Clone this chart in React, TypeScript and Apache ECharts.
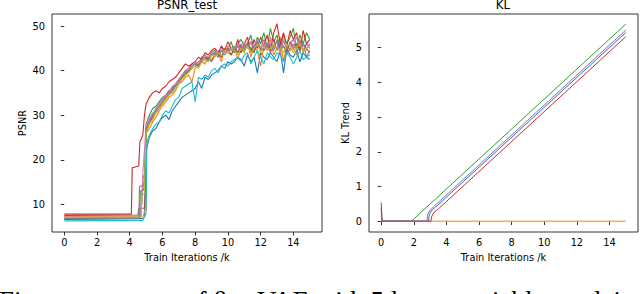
import React, { useEffect, useRef } from "react";
import * as echarts from "echarts";

// ---------- data ----------
const X_TICKS = [0, 2, 4, 6, 8, 10, 12, 14];
const PSNR_TICKS = [10, 20, 30, 40, 50];
const KL_TICKS = [0, 1, 2, 3, 4, 5];

const PSNR_NAMES = ["run0", "run1", "run2", "run3", "run4", "run5", "run6", "run7", "run8", "run9"];
const PSNR_COLORS = ["#1f77b4", "#ff7f0e", "#2ca02c", "#d62728", "#9467bd", "#8c564b", "#e377c2", "#7f7f7f", "#bcbd22", "#17becf"];

// [iteration(k), psnr] points for the flat start and the jump (0 .. 5k)
const psnrHeads: number[][][] = [
  [[0, 6.6], [4.75, 6.8], [4.9, 7.2], [4.95, 11.5], [5.0, 22]],
  [[0, 7.3], [4.85, 7.4], [4.9, 8.5], [5.0, 9], [5.02, 26]],
  [[0, 7.0], [4.6, 7.1], [4.65, 13], [4.85, 13.2], [4.9, 15], [5.0, 28]],
  [[0, 7.8], [4.1, 7.8], [4.15, 18.2], [4.55, 18.6], [4.62, 24], [4.8, 25.5], [4.9, 30], [5.0, 32.5]],
  [[0, 6.9], [4.65, 7.0], [4.7, 9.5], [4.8, 16], [4.95, 17], [5.0, 27]],
  [[0, 7.5], [4.5, 7.6], [4.55, 9], [4.9, 9.2], [4.95, 15], [5.0, 26.5]],
  [[0, 7.2], [4.6, 7.2], [4.65, 9.8], [4.75, 10], [4.8, 17], [5.0, 27.5]],
  [[0, 6.8], [4.55, 6.9], [4.6, 14], [4.85, 14.3], [4.9, 16], [5.0, 27]],
  [[0, 7.1], [4.7, 7.2], [4.75, 12], [4.9, 12.5], [5.0, 26]],
  [[0, 6.3], [4.8, 6.4], [5.0, 8], [5.05, 24]],
];

// psnr values every 0.2k from 5.2k to 15.0k
const TAIL_START = 5.2;
const TAIL_STEP = 0.2;
const psnrTails: number[][] = [
  [25, 26.5, 27, 28.5, 29.5, 30, 29, 31, 32, 33,
   34, 34.5, 35, 35.5, 36, 37.5, 36, 38.5, 38, 39,
   39.5, 40, 41, 40.5, 42, 41.5, 42, 43, 42.5, 41,
   43.5, 42, 43, 39.5, 44, 43, 42.5, 44, 43, 42,
   44.5, 39.5, 45, 43.5, 43, 44.5, 42, 44, 43, 42.5],
  [27, 28.5, 29.5, 31, 32, 33, 34, 34.5, 35.5, 37,
   37.5, 38.5, 39, 37.5, 40.5, 41, 42, 41.5, 43, 42.5,
   43.5, 44, 42, 45, 44, 43.5, 45.5, 42.5, 45, 44,
   46.5, 43, 45.5, 44.5, 41, 46, 44.5, 47, 43.5, 45,
   47.5, 42, 46, 44.5, 45, 43.5, 47, 44, 46, 45],
  [30, 31.5, 32, 33, 34, 34.5, 35.5, 36, 37, 38,
   39, 40, 40.5, 41.5, 42, 41, 43, 43.5, 42.5, 44,
   44.5, 43.5, 45.5, 44, 45, 46.5, 44, 46, 47, 45.5,
   46, 48, 44.5, 47.5, 46, 48.5, 45, 49.5, 46.5, 48,
   44.5, 48, 46, 47.5, 49.5, 45, 48, 46, 48.5, 47],
  [34, 35, 35.5, 35, 36, 36.5, 37.5, 38, 38.5, 39.5,
   40.5, 41.5, 41, 41.5, 42, 43, 42.5, 44, 43.5, 44.5,
   45, 44, 45.5, 44.5, 46.5, 45, 44.5, 47, 44, 46,
   47.5, 44, 47, 45, 47.5, 45.5, 48, 44.5, 48.5, 50.5,
   46, 48.5, 45.5, 49, 47, 48.5, 44.5, 49, 46, 47],
  [29, 30, 31.5, 32.5, 33.5, 34.5, 35, 36, 37, 38,
   39, 39.5, 40.5, 41, 41.5, 42, 42.5, 43, 42.5, 43.5,
   44, 43, 44.5, 44, 45, 44.5, 45.5, 44, 46, 45,
   45.5, 46.5, 44.5, 46, 45, 47, 45.5, 46, 44.5, 47,
   45.5, 46.5, 45, 46, 47, 45.5, 46.5, 44.5, 46, 45.5],
  [28, 29.5, 30.5, 31.5, 33, 34, 34.5, 35.5, 36.5, 37.5,
   38.5, 39, 40, 40.5, 41, 41.5, 42, 42.5, 43, 42,
   43.5, 44, 43, 44.5, 45, 43.5, 45, 44, 45.5, 44.5,
   46, 45, 44, 46.5, 45, 44.5, 46, 45, 47, 44.5,
   46, 45.5, 44, 46.5, 45, 46, 44.5, 46, 45, 44],
  [29.5, 30.5, 31, 32.5, 33.5, 34.5, 35, 36.5, 37, 38,
   39, 39.5, 40.5, 41, 42, 41.5, 42.5, 43.5, 43, 44,
   43.5, 44.5, 45, 44, 45.5, 44.5, 45, 46, 44.5, 46.5,
   45, 46, 45.5, 47, 45, 46, 44.5, 47.5, 45.5, 46.5,
   44, 47, 45.5, 46, 45, 47.5, 45.5, 46, 44.5, 46],
  [28.5, 30, 31, 32, 33, 34, 35, 35.5, 36.5, 37.5,
   38.5, 39.5, 40, 41, 41.5, 41, 42.5, 43, 42, 43.5,
   44, 43, 44.5, 43.5, 44.5, 45, 44, 45.5, 44.5, 45,
   46, 44, 45.5, 46.5, 44.5, 45, 46, 44, 45.5, 46.5,
   44.5, 45.5, 43.5, 45, 46, 44.5, 45, 46.5, 43, 44.5],
  [28, 29, 30.5, 31.5, 32.5, 33.5, 34.5, 35, 36, 37,
   38, 39, 39.5, 40.5, 41, 40.5, 42, 42.5, 42, 43.5,
   43, 44, 43.5, 44.5, 44, 45, 44.5, 43.5, 45, 44.5,
   45.5, 44, 45, 46, 44, 45.5, 44.5, 45, 46, 44.5,
   45, 44, 46, 45.5, 44, 45.5, 46, 44.5, 45, 45.5],
  [25.5, 27, 28, 28.5, 30, 31, 30.5, 32, 33.5, 34,
   36, 36.5, 37, 37.5, 33, 38.5, 38, 39, 38.5, 40,
   40.5, 39.5, 41, 41.5, 41, 42, 42.5, 43, 42, 43.5,
   44, 41.5, 43, 44.5, 43, 41.5, 44, 43, 42.5, 44,
   43.5, 42, 44, 43, 41.5, 43, 44.5, 42.5, 43, 43.5],
];

const KL_NAMES = ["z0", "z1", "z2", "z3", "z4"];
const KL_COLORS = ["#1f77b4", "#ff7f0e", "#2ca02c", "#d62728", "#9467bd"];
const klPoints: number[][][] = [
  [[0, 0.55], [0.05, 0.01], [2.9, 0.01], [2.95, 0.2], [3.05, 0.3], [3.3, 0.4], [15, 5.42]],
  [[0, 0.1], [0.05, 0.01], [15, 0.01]],
  [[0, 0.3], [0.05, 0.01], [1.85, 0.01], [15, 5.66]],
  [[0, 0.4], [0.05, 0.01], [3.05, 0.01], [3.1, 0.15], [3.25, 0.27], [3.5, 0.36], [15, 5.3]],
  [[0, 0.2], [0.05, 0.01], [2.8, 0.01], [2.85, 0.2], [2.95, 0.3], [3.2, 0.42], [15, 5.49]],
];

const TITLES = ["PSNR_test", "KL"];
const X_NAME = "Train Iterations /k";
const Y_NAMES = ["PSNR", "KL Trend"];
const CAPTION = ["Figure", "of β-", "VAE with 5 latent variables and 4"];

// ---------- chart ----------
const FONT = "DejaVu Sans";
const TICK_FS = 9.8;

function makeX(gridIndex: number) {
  return {
    type: "value",
    gridIndex,
    min: -0.75,
    max: 15.75,
    name: X_NAME,
    nameLocation: "middle",
    nameGap: 19,
    nameTextStyle: { fontFamily: FONT, fontSize: TICK_FS, color: "#000" },
    axisLine: { show: false },
    axisTick: { show: true, inside: false, length: 3.5, customValues: X_TICKS, lineStyle: { color: "#000", width: 0.8 } },
    axisLabel: { customValues: X_TICKS, margin: 5.5, fontFamily: FONT, fontSize: TICK_FS, color: "#000" },
    splitLine: { show: false },
  };
}

function makeY(gridIndex: number, min: number, max: number, ticks: number[], name: string, gap: number) {
  return {
    type: "value",
    gridIndex,
    min,
    max,
    name,
    nameLocation: "middle",
    nameRotate: 90,
    nameGap: gap,
    nameTextStyle: { fontFamily: FONT, fontSize: TICK_FS, color: "#000" },
    axisLine: { show: false },
    axisTick: { show: true, inside: false, length: 3.5, customValues: ticks, lineStyle: { color: "#000", width: 0.8 } },
    axisLabel: { customValues: ticks, margin: 7, fontFamily: FONT, fontSize: TICK_FS, color: "#000" },
    splitLine: { show: false },
  };
}

export default function App() {
  const ref = useRef<HTMLDivElement>(null);

  useEffect(() => {
    document.body.style.margin = "0";
    if (!ref.current) return;
    const chart = echarts.init(ref.current, undefined, { renderer: "svg" });

    const psnrSeries = PSNR_NAMES.map((name, k) => ({
      name,
      type: "line",
      xAxisIndex: 0,
      yAxisIndex: 0,
      showSymbol: false,
      symbol: "none",
      lineStyle: { color: PSNR_COLORS[k], width: 1.1 },
      data: psnrHeads[k].concat(
        psnrTails[k].map((v, i) => [Number((TAIL_START + TAIL_STEP * i).toFixed(1)), v])
      ),
    }));

    const klSeries = KL_NAMES.map((name, k) => ({
      name,
      type: "line",
      xAxisIndex: 1,
      yAxisIndex: 1,
      showSymbol: false,
      symbol: "none",
      lineStyle: { color: KL_COLORS[k], width: 1 },
      data: klPoints[k],
    }));

    const gridBase = {
      show: true,
      borderColor: "#000",
      borderWidth: 0.8,
      backgroundColor: "transparent",
      containLabel: false,
    };

    chart.setOption({
      animation: false,
      backgroundColor: "#fff",
      grid: [
        { ...gridBase, left: 52, top: 14, width: 270, height: 218 },
        { ...gridBase, left: 369, top: 14, width: 269, height: 218 },
      ],
      xAxis: [makeX(0), makeX(1)],
      yAxis: [
        makeY(0, 3.8, 52.7, PSNR_TICKS, Y_NAMES[0], 25),
        makeY(1, -0.3, 5.95, KL_TICKS, Y_NAMES[1], 18.5),
      ],
      graphic: [
        { type: "text", x: 187, y: 5, style: { text: TITLES[0], fontFamily: FONT, fontSize: 11.8, fill: "#000", align: "center", verticalAlign: "middle" } },
        { type: "text", x: 503, y: 5, style: { text: TITLES[1], fontFamily: FONT, fontSize: 11.8, fill: "#000", align: "center", verticalAlign: "middle" } },
        { type: "text", x: -1, y: 301, style: { text: CAPTION[0], fontFamily: "Liberation Serif", fontSize: 27, fill: "#000", align: "left", verticalAlign: "middle" } },
        { type: "text", x: 184, y: 301, style: { text: CAPTION[1], fontFamily: "Liberation Serif", fontSize: 27, fill: "#000", align: "left", verticalAlign: "middle" } },
        { type: "text", x: 257, y: 301, style: { text: CAPTION[2], fontFamily: "Liberation Serif", fontSize: 27, fill: "#000", align: "left", verticalAlign: "middle" } },
      ],
      series: [...psnrSeries, ...klSeries],
    });

    return () => chart.dispose();
  }, []);

  return (
    <div style={{ position: "absolute", left: 0, top: 0, width: 640, height: 294, overflow: "hidden", background: "#fff" }}>
      <div ref={ref} style={{ width: 640, height: 294 }} />
    </div>
  );
}
